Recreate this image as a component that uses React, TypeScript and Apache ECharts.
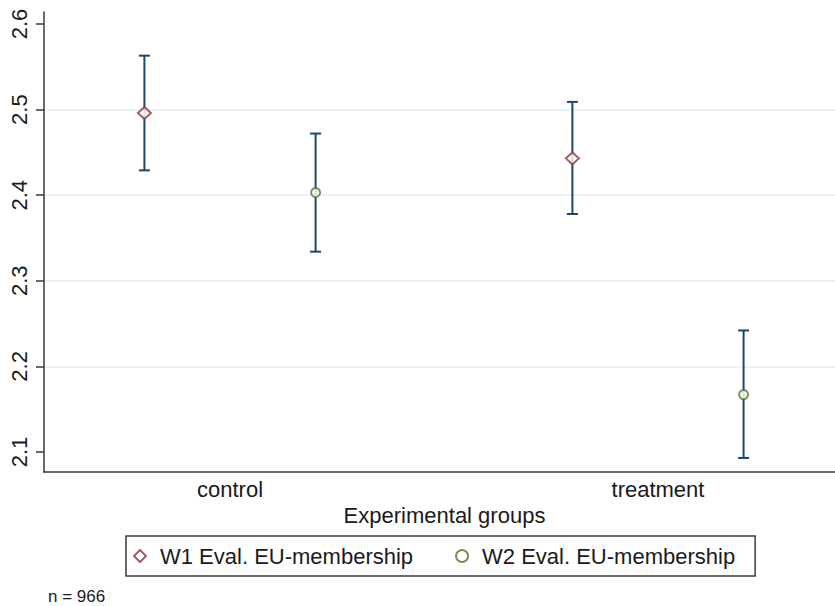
import React, { useEffect, useRef } from 'react';
import * as echarts from 'echarts';

const categories = ['control', 'treatment'];
const seriesNames = ['W1 Eval. EU-membership', 'W2 Eval. EU-membership'];
const w1Mean = [2.496, 2.443];
const w1Lower = [2.429, 2.378];
const w1Upper = [2.563, 2.509];
const w2Mean = [2.403, 2.167];
const w2Lower = [2.334, 2.093];
const w2Upper = [2.472, 2.242];
const yTicks = [2.1, 2.2, 2.3, 2.4, 2.5, 2.6];
const xTitle = 'Experimental groups';
const sampleNote = 'n = 966';

const FONT = '"Liberation Sans", Arial, Helvetica, sans-serif';
const NAVY = '#1a476f';
const MAROON = '#90353b';
const GREEN = '#55752f';
const AXIS = '#3a3a3a';
const GRID = '#e4eef1';
const TEXT = '#1a1a1a';
const DODGE = 0.2;

function errorBarSeries(lower: number[], upper: number[], offset: number) {
  return {
    type: 'custom',
    silent: true,
    z: 2,
    data: categories.map((_, i) => [i + offset, lower[i], upper[i]]),
    encode: { x: 0, y: [1, 2] },
    renderItem: (params: any, api: any) => {
      const x = api.value(0);
      const lo = api.coord([x, api.value(1)]);
      const hi = api.coord([x, api.value(2)]);
      const cap = 5.5;
      const style = { stroke: NAVY, lineWidth: 2, fill: 'none' };
      return {
        type: 'group',
        children: [
          { type: 'line', shape: { x1: lo[0], y1: lo[1], x2: hi[0], y2: hi[1] }, style },
          { type: 'line', shape: { x1: lo[0] - cap, y1: lo[1], x2: lo[0] + cap, y2: lo[1] }, style },
          { type: 'line', shape: { x1: hi[0] - cap, y1: hi[1], x2: hi[0] + cap, y2: hi[1] }, style },
        ],
      };
    },
  };
}

export default function App() {
  const ref = useRef<HTMLDivElement>(null);
  useEffect(() => {
    if (!ref.current) return;
    const chart = echarts.init(ref.current, undefined, { renderer: 'svg' });
    const option: any = {
      animation: false,
      backgroundColor: '#ffffff',
      grid: { left: 44, right: 0, top: 12, bottom: 134, containLabel: false },
      xAxis: {
        type: 'value',
        min: -0.4346,
        max: 1.4136,
        axisLine: { show: true, onZero: false, lineStyle: { color: AXIS, width: 1.5 } },
        axisTick: { show: false },
        splitLine: { show: false },
        axisLabel: {
          customValues: categories.map((_, i) => i),
          formatter: (v: number) => categories[Math.round(v)] ?? '',
          margin: 6,
          fontSize: 22,
          fontFamily: FONT,
          color: TEXT,
        },
        name: xTitle,
        nameLocation: 'middle',
        nameGap: 29,
        nameTextStyle: { fontSize: 22, fontFamily: FONT, color: TEXT, padding: [0, 0, 0, 10] },
      },
      yAxis: {
        type: 'value',
        min: 2.0766,
        max: 2.614,
        axisLine: { show: true, onZero: false, lineStyle: { color: AXIS, width: 1.5 } },
        axisTick: { show: true, length: 8, customValues: yTicks, lineStyle: { color: AXIS, width: 1.5 } },
        axisLabel: {
          customValues: yTicks,
          rotate: 90,
          margin: 14,
          fontSize: 22,
          fontFamily: FONT,
          color: TEXT,
          formatter: (v: number) => v.toFixed(1),
        },
        splitLine: { show: true, showMinLine: false, showMaxLine: false, lineStyle: { color: GRID, width: 1.5 } },
      },
      legend: {
        data: seriesNames,
        left: 126,
        top: 536,
        orient: 'horizontal',
        itemWidth: 12,
        itemHeight: 12,
        itemGap: 42,
        padding: [9, 20, 9, 7],
        borderColor: AXIS,
        borderWidth: 1.5,
        textStyle: { fontFamily: FONT, fontSize: 22, color: TEXT, padding: [0, 0, 0, 9], lineHeight: 22 },
      },
      graphic: [
        {
          type: 'text',
          left: 48,
          top: 588,
          style: { text: sampleNote, font: `17px ${FONT}`, fill: TEXT },
        },
      ],
      series: [
        errorBarSeries(w1Lower, w1Upper, -DODGE),
        errorBarSeries(w2Lower, w2Upper, DODGE),
        {
          type: 'scatter',
          name: seriesNames[0],
          z: 3,
          symbol: 'emptyDiamond',
          symbolSize: [13, 12],
          itemStyle: { color: MAROON, borderColor: MAROON, borderWidth: 2.2 },
          data: categories.map((_, i) => [i - DODGE, w1Mean[i]]),
        },
        {
          type: 'scatter',
          name: seriesNames[1],
          z: 3,
          symbol: 'emptyCircle',
          symbolSize: 9,
          itemStyle: { color: GREEN, borderColor: GREEN, borderWidth: 2 },
          data: categories.map((_, i) => [i + DODGE, w2Mean[i]]),
        },
      ],
    };
    chart.setOption(option);
    return () => chart.dispose();
  }, []);
  return (
    <div
      ref={ref}
      style={{ position: 'absolute', left: 0, top: 0, width: 835, height: 606 }}
    />
  );
}
